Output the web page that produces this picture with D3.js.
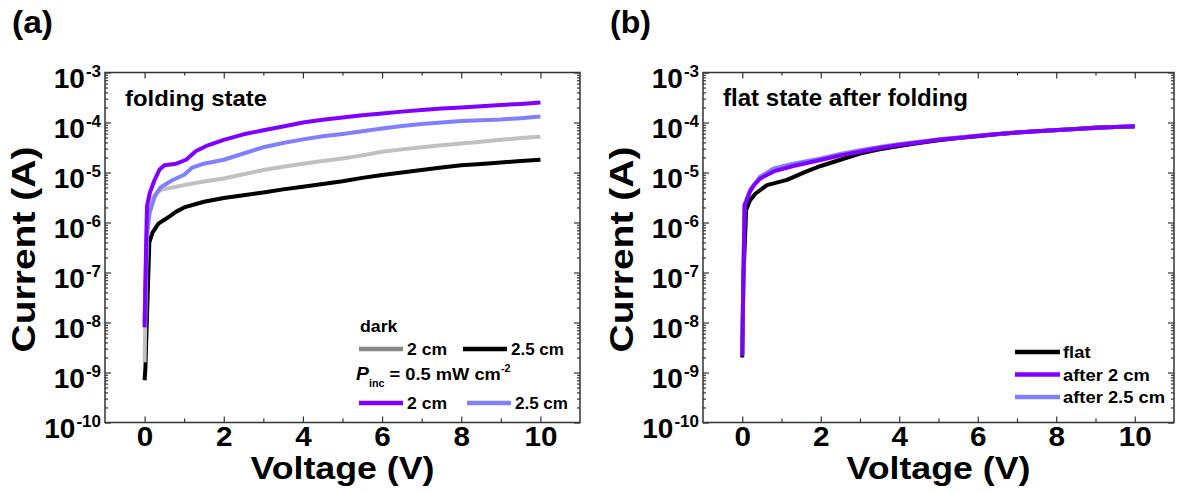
<!DOCTYPE html>
<html>
<head>
<meta charset="utf-8">
<script src="https://cdn.jsdelivr.net/npm/d3@7"></script>
<style>
  body { margin: 0; background: #fff; }
  text { font-family: "Liberation Sans", Arial, sans-serif; font-weight: bold; fill: #000; }
</style>
</head>
<body>
<svg id="chart" width="1178" height="493"></svg>
<script>
// ---- data: [voltage (V), current (A)] ----
const dark2cm = [[0, 1.6e-9], [0.04, 1.0e-7], [0.08, 1.6e-6], [0.15, 2.8e-6], [0.3, 4.0e-6], [0.45, 4.6e-6],
  [0.7, 5.0e-6], [1, 5.6e-6], [1.5, 6.6e-6], [2, 7.6e-6], [2.5, 9.2e-6], [3, 1.12e-5], [3.5, 1.3e-5],
  [4, 1.5e-5], [4.5, 1.7e-5], [5, 1.9e-5], [5.5, 2.2e-5], [6, 2.6e-5], [6.5, 2.9e-5], [7, 3.2e-5],
  [7.5, 3.5e-5], [8, 3.8e-5], [8.5, 4.1e-5], [9, 4.5e-5], [9.5, 4.9e-5], [10, 5.2e-5]]
const dark25cm = [[0, 7e-10], [0.02, 1.2e-9], [0.12, 4e-7], [0.2, 6.3e-7], [0.35, 9.5e-7], [0.55, 1.2e-6],
  [0.8, 1.65e-6], [1, 2.0e-6], [1.5, 2.6e-6], [2, 3.1e-6], [2.5, 3.5e-6], [3, 4.0e-6], [3.5, 4.6e-6],
  [4, 5.2e-6], [4.5, 5.9e-6], [5, 6.7e-6], [5.5, 7.8e-6], [6, 8.9e-6], [6.5, 1.0e-5], [7, 1.12e-5],
  [7.5, 1.26e-5], [8, 1.4e-5], [8.5, 1.48e-5], [9, 1.58e-5], [9.5, 1.7e-5], [10, 1.8e-5]]
const light25cm = [[0, 1e-8], [0.05, 5e-7], [0.13, 1.6e-6], [0.25, 3.2e-6], [0.4, 5.0e-6], [0.7, 7.0e-6],
  [1, 9.0e-6], [1.2, 1.25e-5], [1.5, 1.5e-5], [2, 1.8e-5], [2.5, 2.4e-5], [3, 3.2e-5], [3.5, 3.9e-5],
  [4, 4.6e-5], [4.5, 5.3e-5], [5, 5.9e-5], [5.5, 6.7e-5], [6, 7.6e-5], [6.5, 8.5e-5], [7, 9.3e-5],
  [7.5, 1.0e-4], [8, 1.07e-4], [8.5, 1.11e-4], [9, 1.15e-4], [9.5, 1.22e-4], [10, 1.32e-4]]
const light2cm = [[0, 8e-9], [0.03, 1.5e-7], [0.06, 2.1e-6], [0.13, 3.9e-6], [0.25, 7.0e-6], [0.38, 1.15e-5],
  [0.5, 1.4e-5], [0.8, 1.5e-5], [1.05, 1.8e-5], [1.3, 2.7e-5], [1.6, 3.5e-5], [2, 4.5e-5], [2.5, 5.8e-5],
  [3, 7.0e-5], [3.5, 8.3e-5], [4, 1.0e-4], [4.5, 1.13e-4], [5, 1.26e-4], [5.5, 1.4e-4], [6, 1.52e-4],
  [6.5, 1.65e-4], [7, 1.78e-4], [7.5, 1.9e-4], [8, 2.0e-4], [8.5, 2.12e-4], [9, 2.24e-4], [9.5, 2.35e-4],
  [10, 2.5e-4]]

const flat = [[0, 2e-9], [0.03, 8e-8], [0.1, 1.8e-6], [0.2, 2.8e-6], [0.34, 3.8e-6], [0.63, 5.6e-6],
  [1.14, 7.1e-6], [1.64, 1.05e-5], [2, 1.35e-5], [2.5, 1.8e-5], [3, 2.4e-5], [3.5, 2.9e-5], [4, 3.4e-5],
  [4.5, 3.9e-5], [5, 4.4e-5], [5.5, 4.9e-5], [6, 5.3e-5], [6.5, 5.8e-5], [7, 6.3e-5], [7.5, 6.7e-5],
  [8, 7.0e-5], [8.5, 7.4e-5], [9, 7.9e-5], [9.5, 8.1e-5], [10, 8.3e-5]]
const after25cm = [[0, 2.2e-9], [0.03, 1e-7], [0.06, 2.3e-6], [0.2, 4.5e-6], [0.46, 8.3e-6], [0.8, 1.2e-5],
  [1.3, 1.5e-5], [2, 1.9e-5], [2.5, 2.35e-5], [3, 2.8e-5], [3.5, 3.25e-5], [4, 3.7e-5], [4.5, 4.1e-5],
  [5, 4.6e-5], [5.5, 5.0e-5], [6, 5.5e-5], [6.5, 5.9e-5], [7, 6.3e-5], [7.5, 6.7e-5], [8, 7.1e-5],
  [8.5, 7.4e-5], [9, 7.8e-5], [9.5, 8.1e-5], [10, 8.4e-5]]
const after2cm = [[0, 2.2e-9], [0.03, 1e-7], [0.06, 2.2e-6], [0.1, 2.6e-6], [0.2, 4.2e-6], [0.3, 5.6e-6],
  [0.46, 7.6e-6], [0.8, 1.05e-5], [1.3, 1.35e-5], [2, 1.78e-5], [2.5, 2.2e-5], [3, 2.6e-5], [3.5, 3.1e-5],
  [4, 3.55e-5], [4.5, 4.0e-5], [5, 4.5e-5], [5.5, 4.9e-5], [6, 5.4e-5], [6.5, 5.9e-5], [7, 6.3e-5],
  [7.5, 6.7e-5], [8, 7.1e-5], [8.5, 7.4e-5], [9, 7.8e-5], [9.5, 8.1e-5], [10, 8.4e-5]]

const xDomain = [-1, 11]
const yDomain = [1e-10, 1e-3]
const xMajorTicks = [0, 2, 4, 6, 8, 10]
const xMinorTicks = [1, 3, 5, 7, 9]

const PURPLE = '#7f00ff'
const LIGHTBLUE = '#8080ff'
const GREY = '#c0c0c0'

const legendA = [
  { label: '2 cm', color: '#888888' }, { label: '2.5 cm', color: '#000000' },
  { label: '2 cm', color: PURPLE }, { label: '2.5 cm', color: LIGHTBLUE }
]
const legendB = [
  { label: 'flat', color: '#000000' }, { label: 'after 2 cm', color: PURPLE }, { label: 'after 2.5 cm', color: LIGHTBLUE }
]

// ---- layout ----
const svg = d3.select('#chart')
const TOP = 72.5
const BOTTOM = 422.5

// scale a text horizontally so it spans the width seen in the figure
function fit(sel, x, y, width, rotate) {
  const w = sel.node().getBBox().width
  const k = width ? width / w : 1.08
  sel.attr('transform', `translate(${x},${y})${rotate ? ' rotate(-90)' : ''} scale(${k},1)`)
  return sel
}

function addText(g, str, size, anchor = 'start') {
  return g.append('text').attr('font-size', size).attr('text-anchor', anchor).text(str)
}

function drawPanel(p) {
  const x = d3.scaleLinear().domain(xDomain).range([p.left, p.right])
  const y = d3.scaleLog().domain(yDomain).range([BOTTOM, TOP])
  const g = svg.append('g')

  const line = d3.line().x(d => x(d[0])).y(d => y(d[1]))
  p.series.forEach(s => {
    g.append('path')
      .datum(s.data)
      .attr('d', line)
      .attr('fill', 'none')
      .attr('stroke', s.color)
      .attr('stroke-width', 4)
      .attr('stroke-linejoin', 'round')
  })

  const allY = y.ticks()
  const majorY = allY.filter(v => Math.abs(Math.log10(v) - Math.round(Math.log10(v))) < 1e-6)
  const minorY = allY.filter(v => !majorY.includes(v))

  const tickStyle = sel => {
    sel.select('.domain').remove()
    sel.selectAll('line').attr('stroke', '#333').attr('stroke-width', 1.2)
  }

  // left axis with labels
  const left = g.append('g').attr('transform', `translate(${p.left},0)`)
    .call(d3.axisLeft(y).tickValues(majorY).tickSize(-6).tickPadding(4).tickFormat(() => ''))
    .call(tickStyle)
  left.selectAll('.tick text').each(function (d) {
    const t = d3.select(this)
    t.attr('font-size', 28).attr('dy', '0.52em').attr('fill', '#000')
      .attr('font-family', null)
    t.append('tspan').text('10')
    t.append('tspan').attr('font-size', 17).attr('dy', '-0.62em').attr('dx', 1)
      .text(Math.round(Math.log10(d)))
  })
  g.append('g').attr('transform', `translate(${p.left},0)`)
    .call(d3.axisLeft(y).tickValues(minorY).tickSize(-3).tickFormat(''))
    .call(tickStyle)
  g.append('g').attr('transform', `translate(${p.right},0)`)
    .call(d3.axisRight(y).tickValues(majorY).tickSize(-6).tickFormat(''))
    .call(tickStyle)
  g.append('g').attr('transform', `translate(${p.right},0)`)
    .call(d3.axisRight(y).tickValues(minorY).tickSize(-3).tickFormat(''))
    .call(tickStyle)

  // bottom axis with labels
  const bottom = g.append('g').attr('transform', `translate(0,${BOTTOM})`)
    .call(d3.axisBottom(x).tickValues(xMajorTicks).tickSize(-6).tickPadding(4))
    .call(tickStyle)
  bottom.selectAll('.tick text')
    .attr('font-size', 28).attr('font-family', null).attr('fill', '#000')
    .attr('transform', 'scale(1.06,1)')
  g.append('g').attr('transform', `translate(0,${BOTTOM})`)
    .call(d3.axisBottom(x).tickValues(xMinorTicks).tickSize(-4).tickFormat(''))
    .call(tickStyle)
  g.append('g').attr('transform', `translate(0,${TOP})`)
    .call(d3.axisTop(x).tickValues(xMajorTicks).tickSize(-6).tickFormat(''))
    .call(tickStyle)
  g.append('g').attr('transform', `translate(0,${TOP})`)
    .call(d3.axisTop(x).tickValues(xMinorTicks).tickSize(-3).tickFormat(''))
    .call(tickStyle)

  // frame
  g.append('rect')
    .attr('x', p.left).attr('y', TOP)
    .attr('width', p.right - p.left).attr('height', BOTTOM - TOP)
    .attr('fill', 'none').attr('stroke', '#333').attr('stroke-width', 1.5)

  // titles
  fit(addText(g, 'Voltage (V)', 32, 'middle'), x(5), 479, 184)
  fit(addText(g, 'Current (A)', 34, 'middle'), p.left - 70, (TOP + BOTTOM) / 2 + 2, 206, true)
  fit(addText(g, p.tag, 32), p.left - 93, 33, 41)
  fit(addText(g, p.note, 23), p.left + 20, 106, p.noteWidth)

  return { g, x, y }
}

const a = drawPanel({
  left: 105, right: 580, tag: '(a)', note: 'folding state', noteWidth: 142,
  series: [
    { data: dark25cm, color: '#000' },
    { data: dark2cm, color: GREY },
    { data: light25cm, color: LIGHTBLUE },
    { data: light2cm, color: PURPLE }
  ]
})
const b = drawPanel({
  left: 703, right: 1174, tag: '(b)', note: 'flat state after folding', noteWidth: 245,
  series: [
    { data: flat, color: '#000' },
    { data: after25cm, color: LIGHTBLUE },
    { data: after2cm, color: PURPLE }
  ]
})

// ---- legend (a) ----
function legendLine(g, x0, y0, len, color) {
  g.append('line').attr('x1', x0).attr('x2', x0 + len).attr('y1', y0).attr('y2', y0)
    .attr('stroke', color).attr('stroke-width', 4.5)
}
const la = a.g.append('g')
fit(addText(la, 'dark', 17), 360, 332, 38)
const colsA = [359, 463]
const rowsA = [349, 403]
legendA.forEach((d, i) => {
  const col = colsA[i % 2] + (i === 3 ? 4 : 0)
  const row = rowsA[Math.floor(i / 2)]
  legendLine(la, col, row, 44, d.color)
  fit(addText(la, d.label, 17), col + 48, row + 6, d.label.length > 4 ? 53 : 40)
})
const pinc = addText(la, '', 17)
pinc.append('tspan').attr('font-style', 'italic').attr('font-size', 18).text('P')
pinc.append('tspan').attr('font-size', 10).attr('dy', 7).text('inc')
pinc.append('tspan').attr('dy', -7).text(' = 0.5 mW cm')
pinc.append('tspan').attr('font-size', 10).attr('dy', -8).text('-2')
fit(pinc, 356, 380, 155)

// ---- legend (b) ----
const lb = b.g.append('g')
legendB.forEach((d, i) => {
  const row = 352 + i * 22.5
  legendLine(lb, 1015, row, 45, d.color)
  const t = fit(addText(lb, d.label, 17), 1063, row + 6, null)
})
</script>
</body>
</html>
